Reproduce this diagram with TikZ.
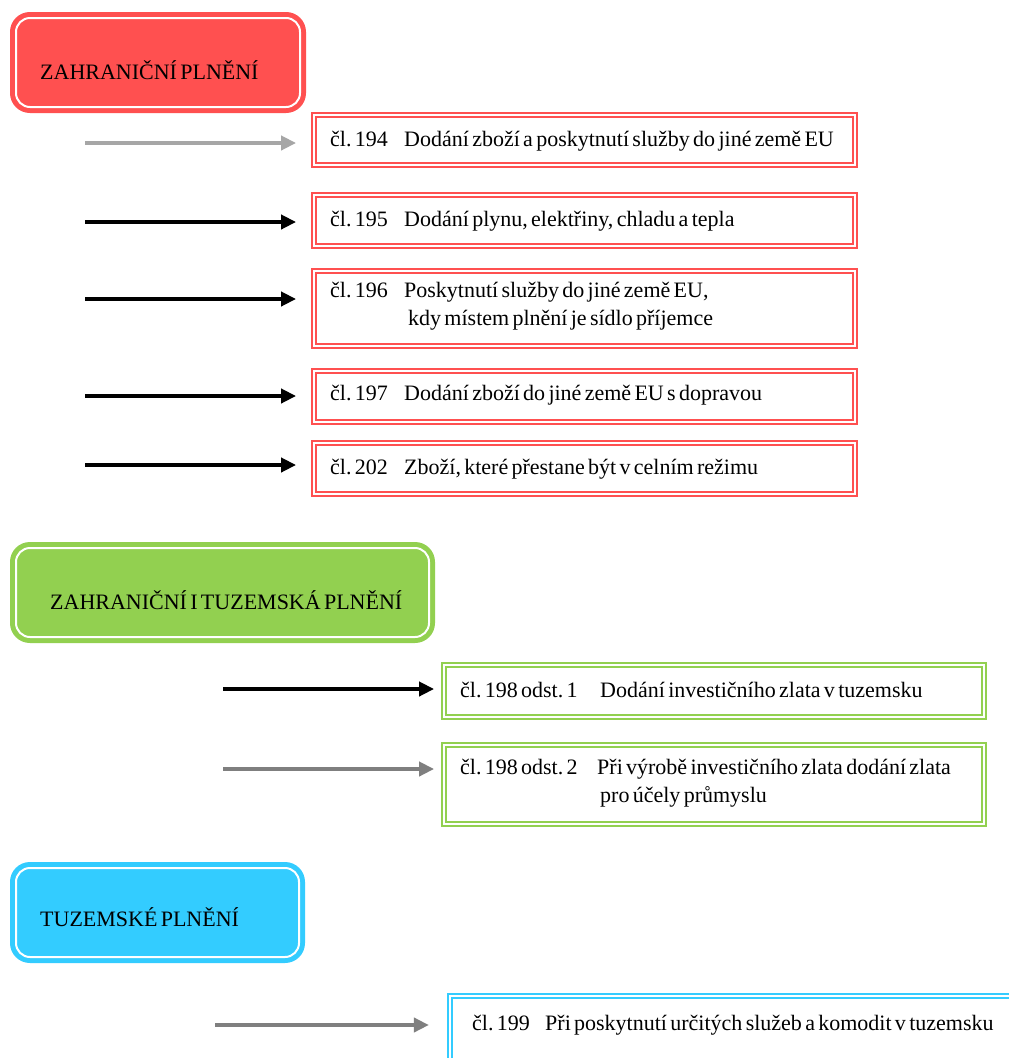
\documentclass[tikz,border=0pt]{standalone}
\usepackage{fontspec}
\setmainfont{Liberation Serif}[WordSpace=0.6]
\usetikzlibrary{arrows.meta}
\definecolor{hred}{HTML}{FF5050}
\definecolor{hgreen}{HTML}{92D050}
\definecolor{hblue}{HTML}{33CCFF}
\definecolor{lgrey}{HTML}{A6A6A6}
\definecolor{mgrey}{HTML}{7F7F7F}
\frenchspacing
\begin{document}
\begin{tikzpicture}[x=1pt,y=-1pt,
  headbox/.style={draw=#1,fill=#1,line width=4pt,rounded corners=18pt,inner sep=0pt},
  headline/.style={draw=white,line width=2pt,rounded corners=14pt},
  headtext/.style={anchor=west,inner sep=0pt,font=\fontsize{22}{26}\selectfont},
  itembox/.style={draw=#1,double=white,double distance=2.5pt,line width=1.8pt,fill=white,
    inner sep=0pt,minimum width=541pt},
  itemtext/.style={anchor=west,inner sep=0pt,font=\fontsize{22}{28}\selectfont},
  arr/.style={line width=4pt,-{Triangle[length=15pt,width=14pt]}},
]
\clip (0,0) rectangle (1009,1058);
\fill[white] (0,0) rectangle (1009,1058);

% ---- header 1
\node[headbox=hred,minimum width=292pt,minimum height=97pt] (h1) at (158,62.5) {};
\draw[headline] ([shift={(6,6)}]h1.north west) rectangle ([shift={(-6,-6)}]h1.south east);
\node[headtext] (t1) at (40,70) {ZAHRANIČNÍ PLNĚNÍ};

% ---- red boxes
\node[itembox=hred,minimum height=50pt] (b194) at (584.5,140) {};
\node[itembox=hred,minimum height=51pt] (b195) at (584.5,220.5) {};
\node[itembox=hred,minimum height=75pt] (b196) at (584.5,308.5) {};
\node[itembox=hred,minimum height=51pt] (b197) at (584.5,396.5) {};
\node[itembox=hred,minimum height=51pt] (b202) at (584.5,468.5) {};

\node[itemtext] (x194) at (330,141) {\makebox[74pt][l]{čl. 194}Dodání zboží a poskytnutí služby do jiné země EU};
\node[itemtext] (x195) at (330,221) {\makebox[74pt][l]{čl. 195}Dodání plynu, elektřiny, chladu a tepla};
\node[itemtext] (x196) at (330,306) {\begin{tabular}{@{}l@{}}\makebox[74pt][l]{čl. 196}Poskytnutí služby do jiné země EU,\\\hspace*{78pt}kdy místem plnění je sídlo příjemce\end{tabular}};
\node[itemtext] (x197) at (330,395) {\makebox[74pt][l]{čl. 197}Dodání zboží do jiné země EU s dopravou};
\node[itemtext] (x202) at (330,469) {\makebox[74pt][l]{čl. 202}Zboží, které přestane být v celním režimu};

\coordinate (s194) at (85,143);
\coordinate (s195) at (85,222);
\coordinate (s196) at (85,299);
\coordinate (s197) at (85,396);
\coordinate (s202) at (85,465);
\draw[arr,lgrey,shorten >=17pt] (s194) -- (s194 -| b194.west);
\draw[arr,black,shorten >=17pt] (s195) -- (s195 -| b195.west);
\draw[arr,black,shorten >=17pt] (s196) -- (s196 -| b196.west);
\draw[arr,black,shorten >=17pt] (s197) -- (s197 -| b197.west);
\draw[arr,black,shorten >=17pt] (s202) -- (s202 -| b202.west);

% ---- header 2
\node[headbox=hgreen,minimum width=421pt,minimum height=97pt] (h2) at (222.5,592.5) {};
\draw[headline] ([shift={(6,6)}]h2.north west) rectangle ([shift={(-6,-6)}]h2.south east);
\node[headtext] (t2) at (50,600) {ZAHRANIČNÍ I TUZEMSKÁ PLNĚNÍ};

\node[itembox=hgreen,minimum width=540pt,minimum height=52pt] (b1981) at (714,691) {};
\node[itembox=hgreen,minimum width=540pt,minimum height=79pt] (b1982) at (714,784.5) {};
\node[itemtext] (x1981) at (460,690) {\makebox[140pt][l]{čl. 198 odst. 1}Dodání investičního zlata v tuzemsku};
\node[itemtext] (x1982) at (460,783) {\begin{tabular}{@{}l@{}}\makebox[137pt][l]{čl. 198 odst. 2}Při výrobě investičního zlata dodání zlata\\\hspace*{140pt}pro účely průmyslu\end{tabular}};

\coordinate (s1981) at (223,689);
\coordinate (s1982) at (223,769);
\draw[arr,black,shorten >=9pt] (s1981) -- (s1981 -| b1981.west);
\draw[arr,mgrey,shorten >=9pt] (s1982) -- (s1982 -| b1982.west);

% ---- header 3
\node[headbox=hblue,minimum width=291pt,minimum height=97pt] (h3) at (157.5,912.5) {};
\draw[headline] ([shift={(6,6)}]h3.north west) rectangle ([shift={(-6,-6)}]h3.south east);
\node[headtext] (t3) at (40,917) {TUZEMSKÉ PLNĚNÍ};

\node[draw=hblue,double=white,double distance=2.5pt,line width=2.2pt,fill=white,
  minimum width=577pt,minimum height=76pt,inner sep=0pt] (b199) at (738.5,1034) {};
\node[itemtext] (t199) at (472,1025)
  {\makebox[73pt][l]{čl. 199}Při poskytnutí určitých služeb a komodit v tuzemsku};

\coordinate (s199) at (215,1025);
\draw[arr,mgrey,shorten >=20pt] (s199) -- (s199 -| b199.west);
\end{tikzpicture}
\end{document}
